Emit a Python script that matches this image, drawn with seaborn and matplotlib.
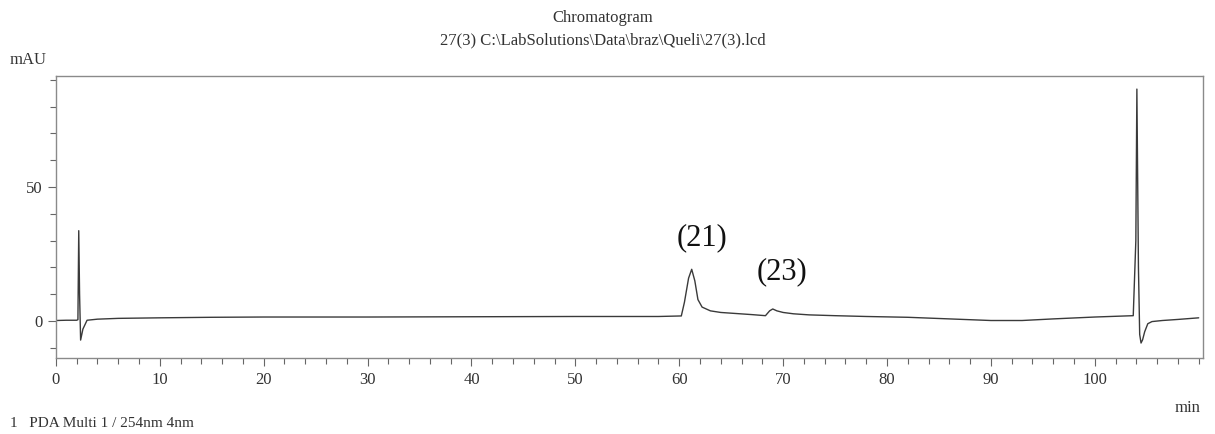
import numpy as np
import pandas as pd
import matplotlib
matplotlib.use("Agg")
import matplotlib.pyplot as plt
from matplotlib.ticker import MultipleLocator, FixedLocator
import seaborn as sns

# retention time (min) and absorbance (mAU)
time_min = [0, 1.0, 2.0, 2.12, 2.2, 2.28, 2.38, 2.6, 3.0, 4.0, 6.0, 10, 15, 20, 30, 40, 50,
             58, 60.2, 60.5, 60.9, 61.2, 61.5, 61.8, 62.2, 63.0, 64.0, 65.5, 67.0, 68.3,
             68.7, 69.0, 69.4, 70.0, 71.0, 72.5, 75, 78, 82, 86, 90, 93, 96, 100,
             103.7, 103.95, 104.05, 104.2, 104.32, 104.45, 104.6, 104.8, 105.1, 105.5,
             106.5, 108, 110]
signal_mau = [0.2, 0.3, 0.3, 0.5, 33.7, 10, -7.1, -3.0, 0.3, 0.7, 1.0, 1.2, 1.4, 1.5, 1.5, 1.6, 1.7,
              1.7, 1.9, 7.0, 16.0, 19.3, 15.0, 8.0, 5.2, 3.8, 3.2, 2.8, 2.4, 2.0,
              3.8, 4.5, 3.8, 3.2, 2.7, 2.3, 2.0, 1.7, 1.4, 0.8, 0.2, 0.2, 0.8, 1.5,
              2.0, 30.0, 86.5, 20.0, -5.0, -8.2, -7.0, -4.0, -1.0, -0.2,
              0.2, 0.6, 1.2]

peak_labels = ["(21)", "(23)"]
peak_label_x = [62.2, 69.9]
peak_label_y = [31.0, 18.3]

x_tick_labels = [0, 10, 20, 30, 40, 50, 60, 70, 80, 90, 100]

title_lines = ["Chromatogram", "27(3) C:\\LabSolutions\\Data\\braz\\Queli\\27(3).lcd"]
footer = "1   PDA Multi 1 / 254nm 4nm"

sns.set_style("ticks")
plt.rcParams['font.family'] = ['Liberation Serif', 'DejaVu Serif']

df = pd.DataFrame({"time": time_min, "mAU": signal_mau})

fig = plt.figure(figsize=(12.15, 4.34), dpi=100)
ax = fig.add_axes([0.046, 0.175, 0.944, 0.65])

sns.lineplot(data=df, x="time", y="mAU", sort=False, estimator=None,
             color="#3a3a3a", linewidth=1.0, ax=ax)

ax.set_xlim(0, 110.4)
ax.set_ylim(-13.8, 91.4)
ax.xaxis.set_major_locator(FixedLocator(x_tick_labels))
ax.xaxis.set_minor_locator(MultipleLocator(2))
ax.yaxis.set_major_locator(MultipleLocator(50))
ax.yaxis.set_minor_locator(MultipleLocator(10))
ax.tick_params(which="major", length=6, width=0.8, color="#666666", labelsize=12,
               labelcolor="#333333", direction="out")
ax.tick_params(which="minor", length=4, width=0.8, color="#666666", direction="out")
ax.tick_params(axis="x", pad=4)
ax.set_xlabel("")
ax.set_ylabel("")
for s in ax.spines.values():
    s.set_color("#8a8a8a")
    s.set_linewidth(1.0)

for lab, x, y in zip(peak_labels, peak_label_x, peak_label_y):
    ax.text(x, y, lab, ha="center", va="center", fontsize=22, color="#111111")

fig.text(0.496, 0.958, title_lines[0], ha="center", va="center", fontsize=12, color="#333333")
fig.text(0.496, 0.908, title_lines[1], ha="center", va="center", fontsize=12, color="#333333")
fig.text(0.008, 0.862, "mAU", ha="left", va="center", fontsize=12, color="#333333")
fig.text(0.988, 0.06, "min", ha="right", va="center", fontsize=12, color="#333333")
fig.text(0.008, 0.025, footer, ha="left", va="center", fontsize=11, color="#333333")

fig.savefig("out.png", dpi=100)
